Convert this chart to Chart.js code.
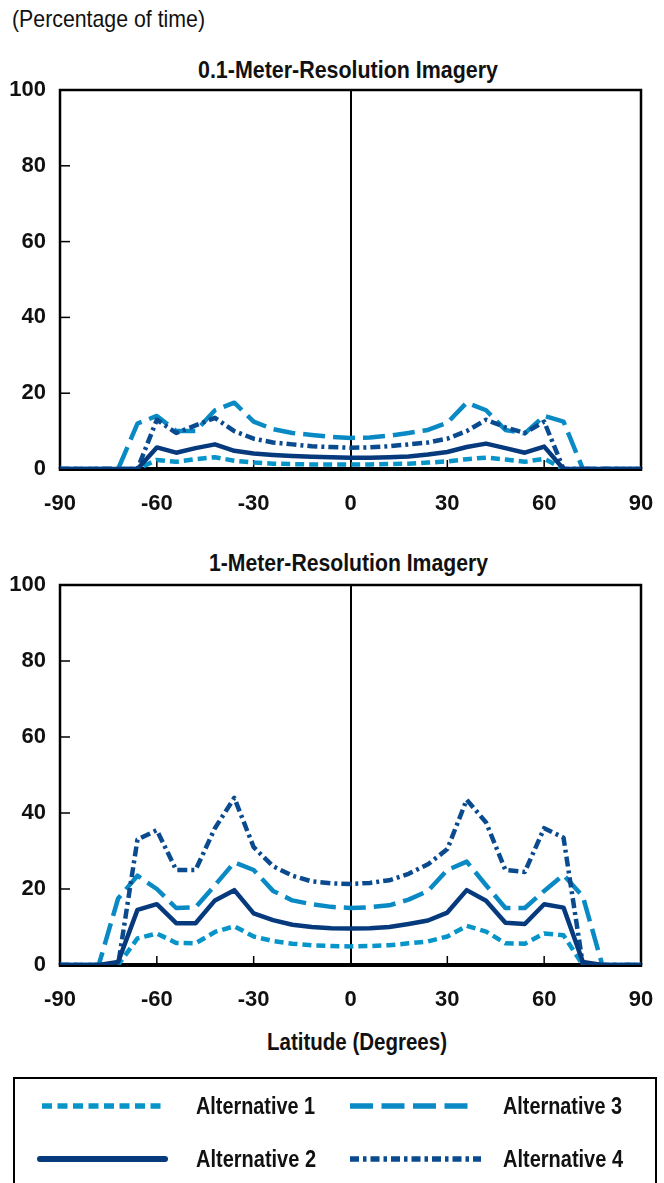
<!DOCTYPE html>
<html><head><meta charset="utf-8">
<script src="https://cdn.jsdelivr.net/npm/chart.js@4.4.1/dist/chart.umd.min.js"></script>
<style>
body{margin:0;width:664px;height:1183px;overflow:hidden;background:#fff;position:relative;font-family:'Liberation Sans',Arial,sans-serif;}
.t{position:absolute;white-space:nowrap;color:#111;line-height:1;font-size:24px;transform-origin:0 50%;}
.b{font-weight:bold;}
canvas{position:absolute;left:0;}
</style></head><body>
<div class="t" data-w="193" style="left:12px;top:7px;">(Percentage of time)</div>
<div class="t b" data-w="300" style="left:198px;top:58px;">0.1-Meter-Resolution Imagery</div>
<div class="t b" data-w="279" style="left:209px;top:551px;">1-Meter-Resolution Imagery</div>
<div class="t b" data-w="180" style="left:267px;top:1030px;">Latitude (Degrees)</div>
<canvas id="c1" width="664" height="450" style="top:70px"></canvas>
<canvas id="c2" width="664" height="451" style="top:565px"></canvas>
<div style="position:absolute;left:13px;top:1077px;width:644px;height:140px;border:2px solid #000;box-sizing:border-box;"></div>
<svg style="position:absolute;left:0;top:0" width="664" height="1183">
  <line x1="42" y1="1106" x2="163" y2="1106" stroke="#0795c9" stroke-width="5.5" stroke-dasharray="10 5.5"/>
  <line x1="350" y1="1106" x2="470" y2="1106" stroke="#0a8ac4" stroke-width="5.5" stroke-dasharray="23 8.5"/>
  <line x1="40" y1="1159" x2="165" y2="1159" stroke="#063a7d" stroke-width="6" stroke-linecap="round"/>
  <line x1="350" y1="1159" x2="481" y2="1159" stroke="#0a4b8f" stroke-width="5.5" stroke-dasharray="9 4 3.5 4"/>
</svg>
<div class="t b" data-w="119" style="left:196px;top:1094px;">Alternative 1</div>
<div class="t b" data-w="119" style="left:503px;top:1094px;">Alternative 3</div>
<div class="t b" data-w="120" style="left:196px;top:1147px;">Alternative 2</div>
<div class="t b" data-w="120" style="left:503px;top:1147px;">Alternative 4</div>
<script>
const latitudes = [-90,-84,-78,-72,-66,-60,-54,-48,-42,-36,-30,-24,-18,-12,-6,0,6,12,18,24,30,36,42,48,54,60,66,72,78,84,90];
const xTicks = [-90,-60,-30,0,30,60,90];
const yTicks = [0,20,40,60,80,100];
const seriesNames = ['Alternative 1','Alternative 2','Alternative 3','Alternative 4'];

// 0.1-Meter-Resolution Imagery
const alt1_01m = [0,0,0,0,0,2.4,1.9,2.6,3.1,2.2,1.7,1.4,1.3,1.2,1.2,1.2,1.2,1.3,1.4,1.7,2.0,2.6,3.0,2.5,1.9,2.7,0,0,0,0,0];
const alt2_01m = [0,0,0,0,0,5.7,4.3,5.5,6.5,4.8,4.1,3.7,3.4,3.2,3.1,3.0,3.0,3.1,3.3,3.8,4.5,5.8,6.7,5.5,4.3,5.9,0,0,0,0,0];
const alt3_01m = [0,0,0,0,12,14,10,10,15.5,17.5,12.5,10.5,9.5,9,8.5,8.2,8.3,8.8,9.5,10.3,12.2,17.5,15.5,10.3,9.4,14,12.5,0,0,0,0];
const alt4_01m = [0,0,0,0,0,13,9.5,11.5,13.5,10,8,7,6.5,6,5.8,5.6,5.7,6,6.5,7,8,10,13,11,9.5,12.5,0,0,0,0,0];

// 1-Meter-Resolution Imagery
const alt1_1m = [0,0,0,0,7,8.3,5.8,5.7,8.7,10.2,7.5,6.3,5.6,5.2,5,4.9,5,5.2,5.7,6.2,7.5,10.3,8.8,5.7,5.6,8.3,7.8,0,0,0,0];
const alt2_1m = [0,0,0,0.8,14.5,16,11,11,17,19.7,13.6,11.8,10.6,10,9.7,9.6,9.7,10,10.8,11.7,13.8,19.7,16.9,11.1,10.8,16,15.1,0.8,0,0,0];
const alt3_1m = [0,0,0,17.5,23.5,20,15,15.2,21,27,25,19.5,17,16,15.3,15,15.2,15.7,17.2,19.5,25,27.2,21,15,15,19.5,23.7,18,0,0,0];
const alt4_1m = [0,0,0,0,33,35.5,25,25,36,44,31,26,23.5,22,21.5,21.3,21.6,22.3,24,26.5,30.5,43.5,37.5,25,24.5,36,33.5,0,0,0,0];

// fit HTML texts to the reference widths
document.querySelectorAll('[data-w]').forEach(el => {
  const w = el.getBoundingClientRect().width;
  el.style.transform = 'scaleX(' + (Number(el.dataset.w) / w) + ')';
});

Chart.defaults.font.family = "'Liberation Sans',Arial,sans-serif";

const styles = [
  {color:'#0795c9', dash:[9,5], order:3},
  {color:'#063a7d', dash:[], order:0},
  {color:'#0a8ac4', dash:[22,8], order:2},
  {color:'#0a4b8f', dash:[10,4,3,4], order:1}
];

function makeDs(valuesList){
  return valuesList.map((vals, i) => ({
    label: seriesNames[i],
    data: latitudes.map((x, j) => ({x: x, y: vals[j]})),
    borderColor: styles[i].color,
    borderWidth: 4.5,
    borderDash: styles[i].dash,
    borderCapStyle: 'butt',
    borderJoinStyle: 'round',
    pointRadius: 0,
    tension: 0,
    fill: false,
    order: styles[i].order
  }));
}

const frame = {
  id: 'frame',
  beforeDatasetsDraw(chart){
    const {ctx, chartArea: a, scales} = chart;
    ctx.save();
    ctx.strokeStyle = '#000';
    ctx.lineWidth = 2.5;
    ctx.beginPath();
    ctx.moveTo(a.left, a.bottom); ctx.lineTo(a.left, a.top);
    ctx.lineTo(a.right, a.top); ctx.lineTo(a.right, a.bottom);
    ctx.stroke();
    ctx.lineWidth = 1.5;
    xTicks.forEach(v => {
      if (v === 0 || Math.abs(v) === 90) return;
      const px = scales.x.getPixelForValue(v);
      ctx.beginPath(); ctx.moveTo(px, a.bottom); ctx.lineTo(px, a.bottom - 9); ctx.stroke();
    });
    yTicks.forEach(v => {
      if (v === 0 || v === 100) return;
      const py = scales.y.getPixelForValue(v);
      ctx.beginPath(); ctx.moveTo(a.left, py); ctx.lineTo(a.left + 10, py); ctx.stroke();
    });
    ctx.lineWidth = 4;
    ctx.beginPath(); ctx.moveTo(a.left - 1.25, a.bottom); ctx.lineTo(a.right + 1.25, a.bottom); ctx.stroke();
    ctx.restore();
  }
};

function zeroPad(s){ s.paddingLeft = 0; s.paddingRight = 0; s.paddingTop = 0; s.paddingBottom = 0; }

function makeChart(id, valuesList){
  return new Chart(document.getElementById(id), {
    type: 'line',
    data: {datasets: makeDs(valuesList)},
    plugins: [frame],
    options: {
      responsive: false,
      animation: false,
      layout: {padding: {top: 20, right: 23, left: 0, bottom: 0}},
      plugins: {legend: {display: false}, tooltip: {enabled: false}, title: {display: false}},
      scales: {
        x: {
          type: 'linear', min: -90, max: 90,
          afterBuildTicks: s => { s.ticks = xTicks.map(v => ({value: v})); },
          afterFit: s => { s.height = 51; zeroPad(s); },
          grid: {drawTicks: false, lineWidth: 2, color: c => (c.tick && c.tick.value === 0) ? '#000' : 'rgba(0,0,0,0)'},
          border: {display: false},
          ticks: {padding: 22, color: '#111', autoSkip: false, maxRotation: 0, font: {size: 22, weight: 'bold'}}
        },
        y: {
          min: 0, max: 100,
          afterBuildTicks: s => { s.ticks = yTicks.map(v => ({value: v})); },
          afterFit: s => { s.width = 60; zeroPad(s); },
          grid: {display: false, drawTicks: false},
          border: {display: false},
          ticks: {padding: 14, color: '#111', font: {size: 22, weight: 'bold'}}
        }
      }
    }
  });
}

makeChart('c1', [alt1_01m, alt2_01m, alt3_01m, alt4_01m]);
makeChart('c2', [alt1_1m, alt2_1m, alt3_1m, alt4_1m]);
</script>
</body></html>
